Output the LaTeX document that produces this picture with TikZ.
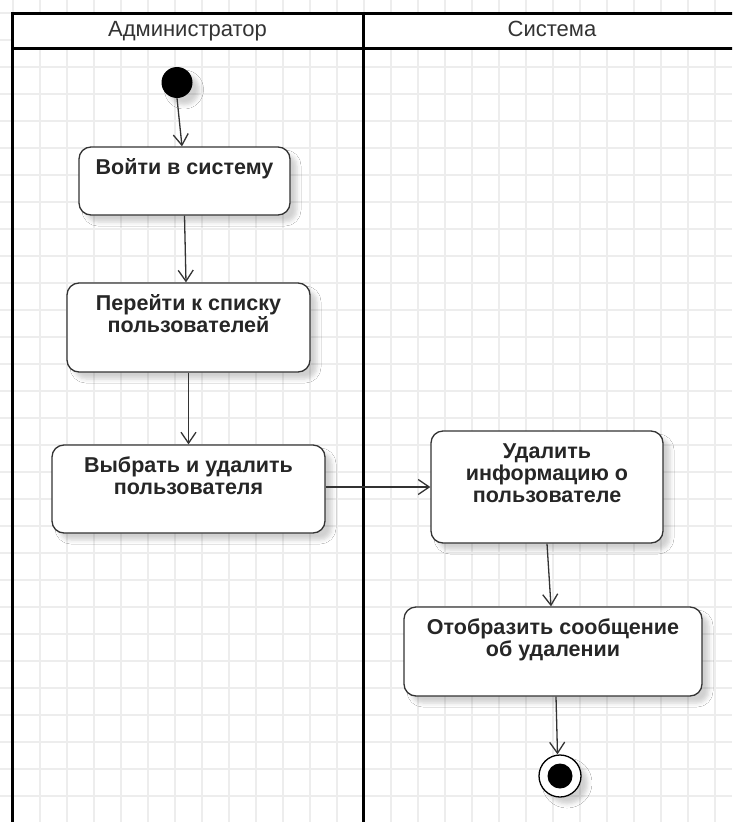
\documentclass[tikz,border=0pt]{standalone}
\usepackage{fontspec}
\setmainfont{Liberation Sans}
\usetikzlibrary{arrows.meta,shadows.blur}
\definecolor{gridline}{HTML}{EDEDED}
\definecolor{ink}{HTML}{333333}
\tikzset{
  lane/.style={line width=3pt, draw=black},
  softshadow/.style={blur shadow={shadow xshift=7pt, shadow yshift=-7pt, shadow opacity=18, shadow blur radius=4pt}},
  action/.style={draw=ink, line width=1.3pt, fill=white, rounded corners=12pt, inner sep=0pt, softshadow},
  actlabel/.style={anchor=north, inner sep=0pt, align=center,
    font=\fontsize{21.5}{22}\selectfont\bfseries, text=black!85},
  flow/.style={draw=ink, line width=1.3pt,
    -{Straight Barb[length=11pt, width=15pt, line width=1.3pt]}},
  lanetitle/.style={anchor=base, inner sep=0pt, font=\fontsize{22}{26}\selectfont, text=ink},
}
\newcommand{\firstline}{\rule{0pt}{16pt}}
\begin{document}
\begin{tikzpicture}[x=1pt, y=-1pt]
  \useasboundingbox (0,0) rectangle (732,822);
  \clip (0,0) rectangle (732,822);
  \fill[white] (0,0) rectangle (732,822);

  % background grid
  \foreach \k in {0,...,27} \draw[gridline, line width=1.2pt] ({13+27*\k},0) -- ({13+27*\k},822);
  \foreach \k in {0,...,30} \draw[gridline, line width=1.2pt] (0,{13+27*\k}) -- (732,{13+27*\k});

  % swimlanes
  \filldraw[lane, fill=white] (12,13) rectangle (363,48);
  \filldraw[lane, fill=white] (363,13) rectangle (745,48);
  \draw[lane] (12,48) -- (12,830);
  \draw[lane] (363,48) -- (363,830);
  \node[lanetitle] (admin) at (187.5,36) {Администратор};
  \node[lanetitle] (sys) at (552,36) {Система};

  % initial node
  \node[circle, fill=black, minimum size=31pt, inner sep=0pt, softshadow] (start) at (177,82.5) {};

  % actions
  \node[action, minimum width=211pt, minimum height=68pt] (b1) at (184.5,181) {};
  \node[actlabel] (t1) at ([yshift=-12pt]b1.north) {\firstline Войти в систему};

  \node[action, minimum width=243pt, minimum height=89pt] (b2) at (188.5,327.5) {};
  \node[actlabel] (t2) at ([yshift=-12pt]b2.north) {\firstline Перейти к списку\\пользователей};

  \node[action, minimum width=273pt, minimum height=88pt] (b3) at (188.5,489) {};
  \node[actlabel] (t3) at ([yshift=-12pt]b3.north) {\firstline Выбрать и удалить\\пользователя};

  \node[action, minimum width=232pt, minimum height=112pt] (b4) at (547,487) {};
  \node[actlabel] (t4) at ([yshift=-12pt]b4.north) {\firstline Удалить\\информацию о\\пользователе};

  \node[action, minimum width=298pt, minimum height=89pt] (b5) at (553,651.5) {};
  \node[actlabel] (t5) at ([yshift=-12pt]b5.north) {\firstline Отобразить сообщение\\об удалении};

  % final node
  \node[circle, draw=black, fill=white, line width=1.3pt, minimum size=42pt, inner sep=0pt, softshadow] (finish) at (560,776) {};
  \node[circle, fill=black, minimum size=25pt, inner sep=0pt] (finishcore) at (finish.center) {};

  % control flow
  \draw[flow] (start.south) -- ([xshift=-2.5pt]b1.north);
  \draw[flow] (b1.south) -- ([xshift=-2.5pt]b2.north);
  \draw[flow] (b2.south) -- (b3.north);
  \draw[flow] ([yshift=2pt]b3.east) -- (b4.west);
  \draw[flow] (b4.south) -- ([xshift=-2pt]b5.north);
  \draw[flow] ([xshift=3pt]b5.south) -- ([xshift=-2.5pt]finish.north);
\end{tikzpicture}
\end{document}
